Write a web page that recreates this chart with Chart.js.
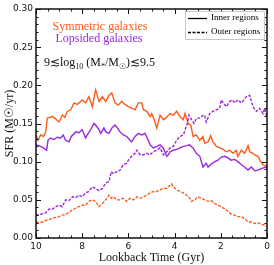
<!DOCTYPE html>
<html>
<head>
<meta charset="utf-8">
<script src="https://cdn.jsdelivr.net/npm/chart.js@4.4.1/dist/chart.umd.min.js"></script>
<style>
  html, body { margin: 0; padding: 0; background: #fff; }
  #wrap { width: 274px; height: 265px; }
</style>
</head>
<body>
<div id="wrap"><canvas id="sfrChart" width="274" height="265"></canvas></div>
<script>
// Lookback time (Gyr) and SFR (Msun/yr)
const symInnerTime = [10.0, 9.91, 9.80, 9.68, 9.58, 9.51, 9.40, 9.29, 9.15, 9.0, 8.86, 8.75, 8.64, 8.50, 8.35, 8.21, 8.10, 8.0, 7.85, 7.71, 7.56, 7.42, 7.27, 7.13, 6.98, 6.84, 6.72, 6.58, 6.44, 6.29, 6.15, 6.0, 5.85, 5.71, 5.57, 5.42, 5.35, 5.20, 5.06, 4.99, 4.88, 4.77, 4.63, 4.49, 4.35, 4.20, 4.06, 3.91, 3.77, 3.62, 3.55, 3.41, 3.30, 3.20, 3.06, 2.91, 2.77, 2.70, 2.55, 2.44, 2.34, 2.19, 2.05, 1.90, 1.76, 1.61, 1.47, 1.33, 1.26, 1.11, 0.97, 0.82, 0.75, 0.62, 0.53, 0.39, 0.27, 0.17, 0.03, 0.0];
const symInnerSfr = [0.135, 0.128, 0.135, 0.133, 0.139, 0.157, 0.158, 0.159, 0.156, 0.152, 0.161, 0.158, 0.166, 0.168, 0.177, 0.175, 0.178, 0.181, 0.177, 0.185, 0.172, 0.194, 0.179, 0.185, 0.179, 0.187, 0.190, 0.177, 0.174, 0.179, 0.175, 0.172, 0.170, 0.168, 0.177, 0.177, 0.168, 0.166, 0.159, 0.163, 0.155, 0.144, 0.161, 0.155, 0.158, 0.163, 0.161, 0.166, 0.159, 0.155, 0.163, 0.150, 0.148, 0.133, 0.135, 0.128, 0.133, 0.124, 0.126, 0.134, 0.126, 0.120, 0.118, 0.116, 0.113, 0.115, 0.111, 0.115, 0.107, 0.115, 0.111, 0.121, 0.113, 0.111, 0.109, 0.107, 0.100, 0.096, 0.094, 0.093];

const lopInnerTime = [10.0, 9.87, 9.73, 9.54, 9.48, 9.37, 9.22, 9.08, 8.93, 8.82, 8.72, 8.57, 8.47, 8.28, 8.14, 8.0, 7.85, 7.78, 7.63, 7.49, 7.42, 7.27, 7.20, 7.06, 6.98, 6.84, 6.72, 6.58, 6.47, 6.36, 6.22, 6.07, 5.93, 5.86, 5.71, 5.57, 5.42, 5.28, 5.14, 5.06, 4.92, 4.77, 4.63, 4.49, 4.34, 4.27, 4.20, 4.06, 3.91, 3.77, 3.62, 3.48, 3.36, 3.20, 3.06, 2.91, 2.77, 2.63, 2.55, 2.41, 2.26, 2.12, 1.98, 1.83, 1.69, 1.55, 1.40, 1.26, 1.11, 0.97, 0.82, 0.68, 0.53, 0.39, 0.25, 0.03, 0.0];
const lopInnerSfr = [0.122, 0.121, 0.119, 0.115, 0.128, 0.131, 0.129, 0.132, 0.131, 0.135, 0.128, 0.126, 0.133, 0.139, 0.138, 0.142, 0.131, 0.135, 0.142, 0.150, 0.148, 0.142, 0.137, 0.144, 0.139, 0.137, 0.144, 0.148, 0.144, 0.139, 0.135, 0.133, 0.128, 0.126, 0.133, 0.137, 0.135, 0.137, 0.128, 0.122, 0.118, 0.120, 0.122, 0.118, 0.107, 0.109, 0.113, 0.115, 0.116, 0.118, 0.120, 0.121, 0.122, 0.118, 0.111, 0.107, 0.093, 0.098, 0.093, 0.097, 0.100, 0.102, 0.106, 0.107, 0.105, 0.102, 0.103, 0.100, 0.096, 0.093, 0.089, 0.093, 0.088, 0.089, 0.091, 0.093, 0.093];

const symOuterTime = [10.0, 9.87, 9.73, 9.58, 9.43, 9.29, 9.14, 9.0, 8.86, 8.72, 8.57, 8.43, 8.28, 8.14, 8.0, 7.85, 7.71, 7.56, 7.42, 7.27, 7.13, 6.98, 6.84, 6.74, 6.65, 6.51, 6.36, 6.22, 6.07, 5.93, 5.78, 5.64, 5.49, 5.35, 5.20, 5.06, 4.92, 4.77, 4.63, 4.49, 4.34, 4.20, 4.13, 4.06, 3.91, 3.77, 3.62, 3.48, 3.36, 3.27, 3.13, 2.99, 2.84, 2.70, 2.55, 2.41, 2.26, 2.12, 1.98, 1.83, 1.69, 1.55, 1.40, 1.26, 1.11, 0.97, 0.82, 0.68, 0.53, 0.39, 0.25, 0.10, 0.03];
const symOuterSfr = [0.021, 0.020, 0.021, 0.023, 0.024, 0.026, 0.027, 0.028, 0.030, 0.031, 0.033, 0.037, 0.039, 0.041, 0.043, 0.043, 0.048, 0.050, 0.048, 0.041, 0.045, 0.050, 0.056, 0.052, 0.054, 0.050, 0.050, 0.052, 0.048, 0.052, 0.050, 0.054, 0.052, 0.054, 0.056, 0.059, 0.061, 0.061, 0.063, 0.065, 0.065, 0.069, 0.071, 0.067, 0.063, 0.061, 0.059, 0.056, 0.053, 0.048, 0.050, 0.054, 0.052, 0.050, 0.048, 0.049, 0.045, 0.043, 0.041, 0.038, 0.035, 0.031, 0.030, 0.028, 0.028, 0.025, 0.021, 0.021, 0.019, 0.020, 0.018, 0.017, 0.015];

const lopOuterTime = [10.0, 9.87, 9.73, 9.58, 9.43, 9.29, 9.14, 9.0, 8.86, 8.72, 8.57, 8.43, 8.28, 8.14, 8.0, 7.85, 7.71, 7.56, 7.42, 7.27, 7.13, 6.98, 6.84, 6.74, 6.65, 6.51, 6.36, 6.22, 6.07, 6.0, 5.86, 5.71, 5.64, 5.49, 5.35, 5.20, 5.06, 4.92, 4.77, 4.63, 4.49, 4.34, 4.20, 4.06, 3.91, 3.77, 3.62, 3.52, 3.45, 3.38, 3.27, 3.16, 3.05, 2.91, 2.80, 2.70, 2.63, 2.48, 2.34, 2.19, 2.05, 1.98, 1.90, 1.76, 1.61, 1.50, 1.40, 1.26, 1.11, 0.90, 0.75, 0.61, 0.46, 0.32, 0.17, 0.10, 0.03, 0.0];
const lopOuterSfr = [0.031, 0.030, 0.032, 0.033, 0.038, 0.038, 0.041, 0.043, 0.041, 0.050, 0.049, 0.054, 0.053, 0.056, 0.054, 0.059, 0.061, 0.067, 0.065, 0.062, 0.065, 0.072, 0.074, 0.087, 0.084, 0.087, 0.089, 0.096, 0.098, 0.102, 0.107, 0.111, 0.115, 0.109, 0.109, 0.111, 0.109, 0.113, 0.115, 0.118, 0.109, 0.113, 0.118, 0.120, 0.128, 0.133, 0.135, 0.144, 0.150, 0.161, 0.155, 0.150, 0.157, 0.157, 0.160, 0.161, 0.152, 0.163, 0.166, 0.168, 0.170, 0.181, 0.177, 0.172, 0.179, 0.181, 0.177, 0.181, 0.177, 0.185, 0.187, 0.172, 0.166, 0.170, 0.163, 0.170, 0.161, 0.160];

const xTicks = [10, 8, 6, 4, 2, 0];
const yTicks = [0.00, 0.05, 0.10, 0.15, 0.20, 0.25, 0.30];

const ORANGE = '#ff5a1a';
const PURPLE = '#9a28e0';
const SERIF = '"Liberation Serif", "DejaVu Serif", serif';
const SANS = '"DejaVu Sans", sans-serif';

function toPoints(times, values) {
    return times.map((t, i) => ({ x: t, y: values[i] }));
}

// Frame, inward ticks, legend box and text labels
const decorPlugin = {
    id: 'decor',
    afterDraw(chart) {
        const ctx = chart.ctx;
        const area = chart.chartArea;
        const xs = chart.scales.x;
        const ys = chart.scales.y;
        ctx.save();
        ctx.strokeStyle = '#111';

        // ticks along x (bottom and top)
        ctx.lineWidth = 1;
        for (let v = 0; v <= 10.001; v += 0.5) {
            const px = Math.round(xs.getPixelForValue(v)) + 0.5;
            const major = Math.abs(v - Math.round(v / 2) * 2) < 1e-6;
            const len = major ? 5 : 2.5;
            ctx.beginPath();
            ctx.moveTo(px, area.bottom); ctx.lineTo(px, area.bottom - len);
            ctx.moveTo(px, area.top); ctx.lineTo(px, area.top + len);
            ctx.stroke();
        }
        // ticks along y (left and right)
        for (let i = 0; i <= 30; i++) {
            const py = Math.round(ys.getPixelForValue(i / 100)) + 0.5;
            const len = i % 5 === 0 ? 5 : 2.5;
            ctx.beginPath();
            ctx.moveTo(area.left, py); ctx.lineTo(area.left + len, py);
            ctx.moveTo(area.right, py); ctx.lineTo(area.right - len, py);
            ctx.stroke();
        }
        // frame
        ctx.lineWidth = 1.5;
        ctx.strokeRect(area.left, area.top, area.right - area.left, area.bottom - area.top);

        // legend box
        const bx = 185, by = 11, bw = 79, bh = 28;
        ctx.fillStyle = '#fff';
        ctx.fillRect(bx, by, bw, bh);
        ctx.strokeStyle = '#c8c8c8';
        ctx.lineWidth = 1;
        ctx.strokeRect(bx + 0.5, by + 0.5, bw, bh);
        ctx.strokeStyle = '#000';
        ctx.lineWidth = 1.3;
        ctx.beginPath();
        ctx.moveTo(188, 18.5); ctx.lineTo(207, 18.5);
        ctx.stroke();
        ctx.setLineDash([3, 1.5]);
        ctx.beginPath();
        ctx.moveTo(188, 32.5); ctx.lineTo(207, 32.5);
        ctx.stroke();
        ctx.setLineDash([]);
        ctx.fillStyle = '#000';
        ctx.font = '9px ' + SERIF;
        ctx.textBaseline = 'middle';
        ctx.textAlign = 'left';
        ctx.fillText('Inner regions', 211, 18);
        ctx.fillText('Outer regions', 211, 32);

        // group labels
        ctx.font = '12px ' + SERIF;
        ctx.textAlign = 'center';
        ctx.fillStyle = ORANGE;
        ctx.fillText('Symmetric galaxies', 100, 27);
        ctx.fillStyle = PURPLE;
        ctx.fillText('Lopsided galaxies', 99, 39);

        // mass range, with sub-scripts
        const parts = [
            { t: '9', s: 12 }, { t: '≲', s: 12 }, { t: 'log', s: 12 }, { t: '10', s: 8, dy: 3 },
            { t: ' (M', s: 12 }, { t: '*', s: 8, dy: 3 }, { t: '/M', s: 12 }, { t: '☉', s: 8, dy: 3 },
            { t: ')', s: 12 }, { t: '≲', s: 12 }, { t: '9.5', s: 12 }
        ];
        ctx.fillStyle = '#111';
        ctx.textAlign = 'left';
        ctx.textBaseline = 'alphabetic';
        let cx = 44;
        const base = 66;
        parts.forEach(p => {
            ctx.font = p.s + 'px ' + SERIF;
            ctx.fillText(p.t, cx, base + (p.dy || 0));
            cx += ctx.measureText(p.t).width;
        });
        ctx.restore();
    }
};

function makeDataset(times, values, color, dashed) {
    return {
        data: toPoints(times, values),
        borderColor: color,
        borderWidth: 1.4,
        borderDash: dashed ? [3, 1.5] : [],
        pointRadius: 0,
        tension: 0,
        fill: false
    };
}

const ctx = document.getElementById('sfrChart').getContext('2d');
new Chart(ctx, {
    type: 'line',
    data: {
        datasets: [
            makeDataset(symOuterTime, symOuterSfr, ORANGE, true),
            makeDataset(lopOuterTime, lopOuterSfr, PURPLE, true),
            makeDataset(lopInnerTime, lopInnerSfr, PURPLE, false),
            makeDataset(symInnerTime, symInnerSfr, ORANGE, false)
        ]
    },
    options: {
        responsive: false,
        animation: false,
        layout: { padding: { top: 9, right: 7, left: 0, bottom: 0 } },
        plugins: {
            legend: { display: false },
            tooltip: { enabled: false }
        },
        scales: {
            x: {
                type: 'linear',
                reverse: true,
                min: 0,
                max: 10,
                afterFit(scale) { scale.height = 27; },
                afterBuildTicks(scale) { scale.ticks = xTicks.map(v => ({ value: v })); },
                grid: { display: false, drawTicks: false },
                border: { display: false },
                ticks: {
                    padding: 3,
                    color: '#111',
                    font: { family: SANS, size: 9 },
                    callback: v => String(v)
                },
                title: {
                    display: true,
                    text: 'Lookback Time (Gyr)',
                    color: '#111',
                    font: { family: SERIF, size: 12 },
                    padding: { top: 1, bottom: 0 }
                }
            },
            y: {
                min: 0,
                max: 0.3,
                afterFit(scale) { scale.width = 36; },
                afterBuildTicks(scale) { scale.ticks = yTicks.map(v => ({ value: v })); },
                grid: { display: false, drawTicks: false },
                border: { display: false },
                ticks: {
                    padding: 3,
                    color: '#111',
                    font: { family: SANS, size: 9 },
                    callback: v => v.toFixed(2)
                },
                title: {
                    display: true,
                    text: 'SFR (M☉/yr)',
                    color: '#111',
                    font: { family: SERIF, size: 12 },
                    padding: { top: 3, bottom: 0 }
                }
            }
        }
    },
    plugins: [decorPlugin]
});
</script>
</body>
</html>
